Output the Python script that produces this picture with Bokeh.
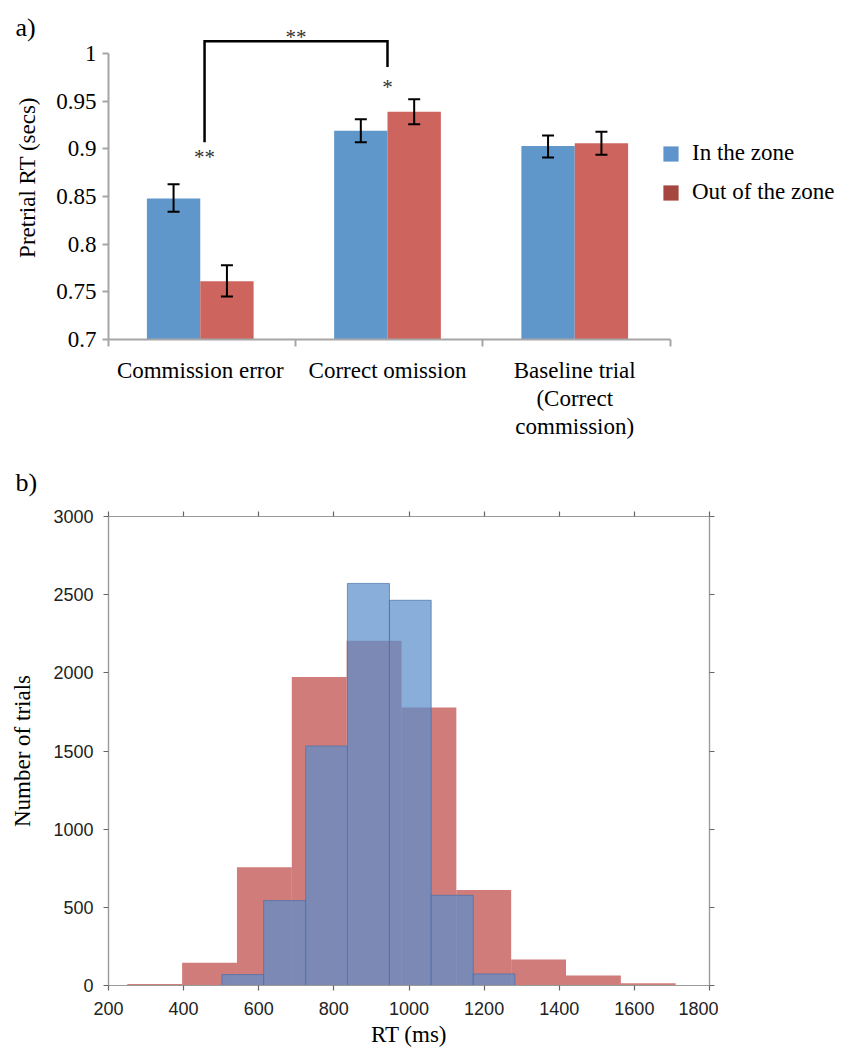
from bokeh.plotting import figure
from bokeh.layouts import column
from bokeh.models import (ColumnDataSource, FixedTicker, Whisker, TeeHead, Legend, LegendItem,
                          LinearAxis, Range1d, Label, NumeralTickFormatter, CustomJSTickFormatter)
from bokeh.embed import file_html
from bokeh.resources import INLINE
from bokeh.core.properties import value

# ---------------- Panel a data ----------------
categories = ["Commission error", "Correct omission", "Baseline trial\n(Correct\ncommission)"]
series_labels = ["In the zone", "Out of the zone"]
in_zone_mean = [0.848, 0.919, 0.903]
in_zone_low = [0.834, 0.907, 0.891]
in_zone_high = [0.863, 0.931, 0.914]
out_zone_mean = [0.761, 0.939, 0.906]
out_zone_low = [0.745, 0.926, 0.894]
out_zone_high = [0.778, 0.952, 0.918]
y_ticks_a = [0.7, 0.75, 0.8, 0.85, 0.9, 0.95, 1.0]
sig_labels = ["**", "*", "**"]

# ---------------- Panel b data ----------------
out_edges = [250, 396, 542, 688, 834, 980, 1126, 1272, 1418, 1564, 1710]
out_counts = [10, 145, 757, 1974, 2206, 1779, 611, 166, 64, 14]
in_edges = [502, 613, 725, 836, 948, 1059, 1171, 1282]
in_counts = [70, 543, 1532, 2572, 2464, 577, 74]
x_ticks_b = [200, 400, 600, 800, 1000, 1200, 1400, 1600, 1800]
y_ticks_b = [0, 500, 1000, 1500, 2000, 2500, 3000]

SERIF = "Liberation Serif"
SANS = "Liberation Sans"

BLUE = "#6097CA"
RED = "#CD645E"

# ================= Panel a =================
pa = figure(frame_width=734, frame_height=324, x_range=Range1d(0, 3.92), y_range=Range1d(0.7, 1.04),
            output_backend="svg", toolbar_location=None,
            min_border_left=108, min_border_right=0, min_border_top=15, min_border_bottom=167)
pa.grid.visible = False
pa.outline_line_color = None

n = len(categories)
bw = 0.285
off = 0.49
src_in = ColumnDataSource(dict(x=[i + off - bw / 2 for i in range(n)], top=in_zone_mean,
                               lower=in_zone_low, upper=in_zone_high))
src_out = ColumnDataSource(dict(x=[i + off + bw / 2 for i in range(n)], top=out_zone_mean,
                                lower=out_zone_low, upper=out_zone_high))
pa.vbar(x="x", top="top", bottom=0.7, width=bw, source=src_in, fill_color=BLUE, line_color=None)
pa.vbar(x="x", top="top", bottom=0.7, width=bw, source=src_out, fill_color=RED, line_color=None)

for src in (src_in, src_out):
    w = Whisker(source=src, base="x", upper="upper", lower="lower", dimension="height",
                line_width=2, line_color="black", level="overlay",
                upper_head=TeeHead(size=12, line_width=2, line_color="black"),
                lower_head=TeeHead(size=12, line_width=2, line_color="black"))
    pa.add_layout(w)

# significance bracket (between commission error and correct omission)
bx_left, bx_right = 0.513, 1.49
pa.line(x=[bx_left, bx_left, bx_right, bx_right], y=[0.907, 1.013, 1.013, 0.986],
        line_width=2.5, line_color="black", line_join="miter")
pa.text(x=[(bx_left + bx_right) / 2, bx_right, bx_left], y=[1.017, 0.965, 0.891], text=sig_labels,
        text_font=value(SERIF), text_font_size="21px", text_align="center",
        text_baseline="middle", text_color="#333333")

# axes
ya = pa.yaxis[0]
ya.bounds = (0.7, 1.0)
ya.ticker = FixedTicker(ticks=y_ticks_a)
ya.formatter = NumeralTickFormatter(format="0.[00]")
ya.axis_line_color = "#a6a6a6"
ya.axis_line_width = 2
ya.major_tick_line_color = "#a6a6a6"
ya.major_tick_line_width = 2
ya.major_tick_out = 6
ya.major_tick_in = 0
ya.minor_tick_line_color = None
ya.major_label_standoff = 6
ya.major_label_text_font = SERIF
ya.major_label_text_font_size = "23px"
ya.major_label_text_color = "black"
ya.axis_label = "Pretrial RT (secs)"
ya.axis_label_text_font = SERIF
ya.axis_label_text_font_size = "23px"
ya.axis_label_text_font_style = "normal"
ya.axis_label_text_color = "black"
ya.axis_label_standoff = 13

xa = pa.xaxis[0]
xa.bounds = (0, 3)
xa.ticker = FixedTicker(ticks=[i + off for i in range(n)], minor_ticks=list(range(n + 1)))
xa.formatter = CustomJSTickFormatter(args=dict(labels=categories),
                                     code="return labels[Math.floor(tick)];")
xa.axis_line_color = "#a6a6a6"
xa.axis_line_width = 2
xa.major_tick_line_color = None
xa.major_tick_out = 0
xa.major_tick_in = 0
xa.minor_tick_line_color = "#a6a6a6"
xa.minor_tick_line_width = 2
xa.minor_tick_out = 7
xa.minor_tick_in = 0
xa.major_label_standoff = 11
xa.major_label_text_font = SERIF
xa.major_label_text_font_size = "23px"
xa.major_label_text_color = "black"
xa.major_label_text_line_height = 1.12

# legend (swatches from zero-height quads so that they carry the legend colours)
leg_in = pa.quad(left=[0], right=[0], top=[0.7], bottom=[0.7], fill_color="#5F93CB", line_color=None)
leg_out = pa.quad(left=[0], right=[0], top=[0.7], bottom=[0.7], fill_color="#A5463F", line_color=None)
legend = Legend(items=[LegendItem(label=series_labels[0], renderers=[leg_in]),
                       LegendItem(label=series_labels[1], renderers=[leg_out])],
                location=(553, 134), padding=0, margin=0, spacing=13,
                glyph_width=19, glyph_height=19, label_standoff=12,
                label_text_font=SERIF, label_text_font_size="23px", label_text_color="black",
                background_fill_alpha=0, border_line_color=None)
pa.add_layout(legend)

# panel letters, placed in a side panel so that they are not clipped to the frame
pa.add_layout(Label(x=-0.4965, y=1.0274, x_units="data", y_units="data", text="a)",
                    text_font=SERIF, text_font_size="26px", text_baseline="middle",
                    text_align="left", text_color="black"), "below")
pa.add_layout(Label(x=-0.4965, y=0.5499, x_units="data", y_units="data", text="b)",
                    text_font=SERIF, text_font_size="26px", text_baseline="middle",
                    text_align="left", text_color="black"), "below")

# ================= Panel b =================
pb = figure(frame_width=601, frame_height=469, x_range=Range1d(200, 1800), y_range=Range1d(0, 3000),
            output_backend="svg", toolbar_location=None,
            min_border_left=107, min_border_right=10, min_border_top=10, min_border_bottom=5)
pb.grid.visible = False
pb.outline_line_color = "#9a9a9a"
pb.outline_line_width = 1.2

pb.quad(left=out_edges[:-1], right=out_edges[1:], bottom=0, top=out_counts,
        fill_color="#C0504D", fill_alpha=0.75, line_color=None)
pb.quad(left=in_edges[:-1], right=in_edges[1:], bottom=0, top=in_counts,
        fill_color="#5B8FCB", fill_alpha=0.72, line_color="#4A6FA8", line_alpha=0.7, line_width=1)

pb.add_layout(LinearAxis(), "above")
pb.add_layout(LinearAxis(), "right")

for ax in pb.xaxis:
    ax.ticker = FixedTicker(ticks=x_ticks_b)
for ax in pb.yaxis:
    ax.ticker = FixedTicker(ticks=y_ticks_b)

for ax in list(pb.xaxis) + list(pb.yaxis):
    ax.axis_line_color = "#9a9a9a"
    ax.axis_line_width = 1.2
    ax.major_tick_line_color = "#666666"
    ax.major_tick_line_width = 1.2
    ax.major_tick_out = 5
    ax.major_tick_in = 0
    ax.minor_tick_line_color = None
    ax.major_label_text_font = SANS
    ax.major_label_text_font_size = "18px"
    ax.major_label_text_color = "#222222"
    ax.axis_label_text_font = SERIF
    ax.axis_label_text_font_size = "23px"
    ax.axis_label_text_font_style = "normal"
    ax.axis_label_text_color = "black"

bx = pb.below[0]
bx.major_label_standoff = 11
bx.axis_label = "RT (ms)"
bx.axis_label_standoff = 4
ly = pb.left[0]
ly.major_label_standoff = 10
ly.axis_label = "Number of trials"
ly.axis_label_standoff = 15

for ax in (pb.above[0], pb.right[0]):
    ax.formatter = CustomJSTickFormatter(code="return '';")
    ax.major_label_text_font_size = "0px"
    ax.major_label_standoff = 0

layout = column(pa, pb, spacing=0)
open("out.html", "w").write(file_html(layout, INLINE))
